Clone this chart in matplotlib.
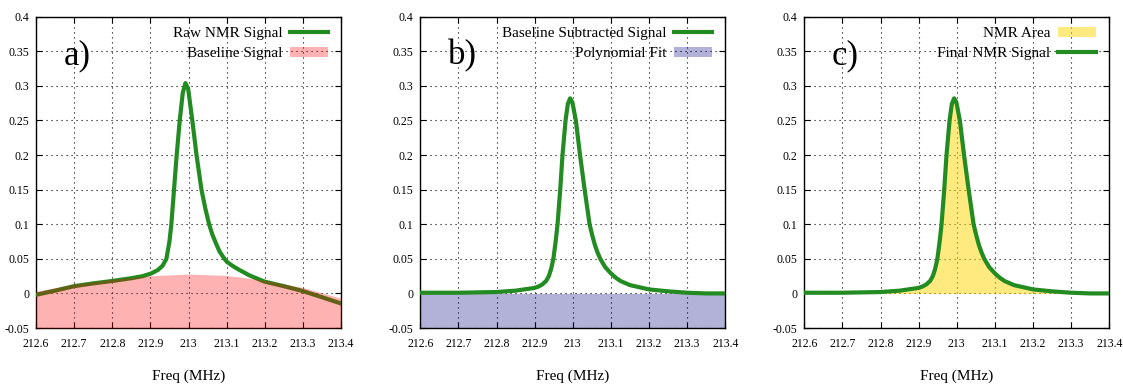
import matplotlib
matplotlib.use("Agg")
import matplotlib.pyplot as plt

plt.rcParams['font.family'] = ['Liberation Serif', 'DejaVu Serif']
plt.rcParams['axes.unicode_minus'] = False

# panel a: raw signal and baseline
raw_x = [212.6, 212.65, 212.7, 212.75, 212.8, 212.85, 212.88, 212.903, 212.92, 212.932,
         212.942, 212.95, 212.955, 212.962, 212.969, 212.977, 212.985, 212.992, 212.999,
         213.01, 213.021, 213.034, 213.044, 213.054, 213.062, 213.07, 213.081, 213.093,
         213.1, 213.115, 213.13, 213.16, 213.2, 213.25, 213.3, 213.35, 213.4]
raw_y = [-0.002, 0.004, 0.0105, 0.0145, 0.018, 0.022, 0.025, 0.029, 0.034, 0.04,
         0.05, 0.075, 0.1, 0.15, 0.2, 0.25, 0.29, 0.304, 0.296,
         0.25, 0.2, 0.15, 0.123, 0.1, 0.086, 0.075, 0.061, 0.051,
         0.046, 0.04, 0.035, 0.026, 0.017, 0.0105, 0.0034, -0.0055, -0.0145]
base_x = [212.6, 212.7, 212.8, 212.9, 213.0, 213.1, 213.2, 213.3, 213.4]
base_y = [0.003, 0.0135, 0.0205, 0.0255, 0.028, 0.026, 0.019, 0.0085, -0.007]

# panel b / c: baseline subtracted signal
sig_x = [212.6, 212.7, 212.8, 212.85, 212.9, 212.91, 212.92, 212.93, 212.937, 212.943,
         212.949, 212.955, 212.96, 212.967, 212.973, 212.981, 212.987, 212.993, 212.999,
         213.008, 213.019, 213.031, 213.044, 213.051, 213.058, 213.065, 213.072, 213.085,
         213.1, 213.112, 213.125, 213.15, 213.2, 213.25, 213.3, 213.35, 213.4]
sig_y = [0.001, 0.001, 0.002, 0.004, 0.008, 0.01, 0.013, 0.018, 0.025, 0.035,
         0.05, 0.075, 0.1, 0.15, 0.2, 0.25, 0.274, 0.282, 0.276,
         0.25, 0.2, 0.15, 0.1, 0.084, 0.07, 0.059, 0.05, 0.038,
         0.029, 0.023, 0.018, 0.012, 0.0058, 0.003, 0.001, 0.0, 0.0]
poly_x = [212.6, 212.8, 213.0, 213.2, 213.4]
poly_y = [0.0, 0.0, 0.0, 0.0, -0.0005]

xticks = [212.6, 212.7, 212.8, 212.9, 213.0, 213.1, 213.2, 213.3, 213.4]
xlabels = ['212.6', '212.7', '212.8', '212.9', '213', '213.1', '213.2', '213.3', '213.4']
yticks = [-0.05, 0, 0.05, 0.1, 0.15, 0.2, 0.25, 0.3, 0.35, 0.4]
ylabels = ['-0.05', '0', '0.05', '0.1', '0.15', '0.2', '0.25', '0.3', '0.35', '0.4']

green = '#228b22'
ymin = -0.05

fig = plt.figure(figsize=(11.23, 3.84), dpi=100)
lefts = [36 / 1123, 420.3 / 1123, 804.3 / 1123]
axes = [fig.add_axes([l, 0.1458, 0.2716, 0.8107]) for l in lefts]


def style(ax, tag):
    ax.set_xlim(212.6, 213.4)
    ax.set_ylim(-0.05, 0.4)
    ax.set_xticks(xticks)
    ax.set_xticklabels(xlabels)
    ax.set_yticks(yticks)
    ax.set_yticklabels(ylabels)
    ax.tick_params(direction='in', top=True, right=True, length=4, width=0.8,
                   labelsize=8.5)
    ax.tick_params(axis='x', pad=7)
    ax.tick_params(axis='y', pad=5)
    ax.grid(True, color='black', linestyle=(0, (1, 3.5)), linewidth=0.8)
    ax.set_axisbelow(True)
    for s in ax.spines.values():
        s.set_linewidth(1.0)
    ax.set_xlabel('Freq (MHz)', fontsize=11, labelpad=14)
    ax.text(0.09, 0.875, tag, transform=ax.transAxes, fontsize=25,
            va='center', ha='left')


def legend(ax, handles):
    ax.legend(handles=handles, loc='upper right', frameon=False, markerfirst=False,
              fontsize=11, handlelength=2.5, handletextpad=0.5, labelspacing=0.4,
              borderaxespad=0, borderpad=0,
              bbox_to_anchor=(1 - 13 / 305.3, 1 - 10 / 311))


# a)
ax = axes[0]
style(ax, 'a)')
l1, = ax.plot(raw_x, raw_y, color=green, lw=3, label='Raw NMR Signal', zorder=3)
f1 = ax.fill_between(base_x, ymin, base_y, color='red', alpha=0.3, lw=0,
                     label='Baseline Signal', zorder=4)
legend(ax, [l1, f1])

# b)
ax = axes[1]
style(ax, 'b)')
f2 = ax.fill_between(poly_x, ymin, poly_y, color='navy', alpha=0.3, lw=0,
                     label='Polynomial Fit', zorder=2)
l2, = ax.plot(sig_x, sig_y, color=green, lw=3, label='Baseline Subtracted Signal', zorder=3)
legend(ax, [l2, f2])

# c)
ax = axes[2]
style(ax, 'c)')
f3 = ax.fill_between(sig_x, 0, sig_y, color='gold', alpha=0.5, lw=0,
                     label='NMR Area', zorder=2)
l3, = ax.plot(sig_x, sig_y, color=green, lw=3, label='Final NMR Signal', zorder=3)
legend(ax, [f3, l3])

fig.savefig('out.png', dpi=100)
